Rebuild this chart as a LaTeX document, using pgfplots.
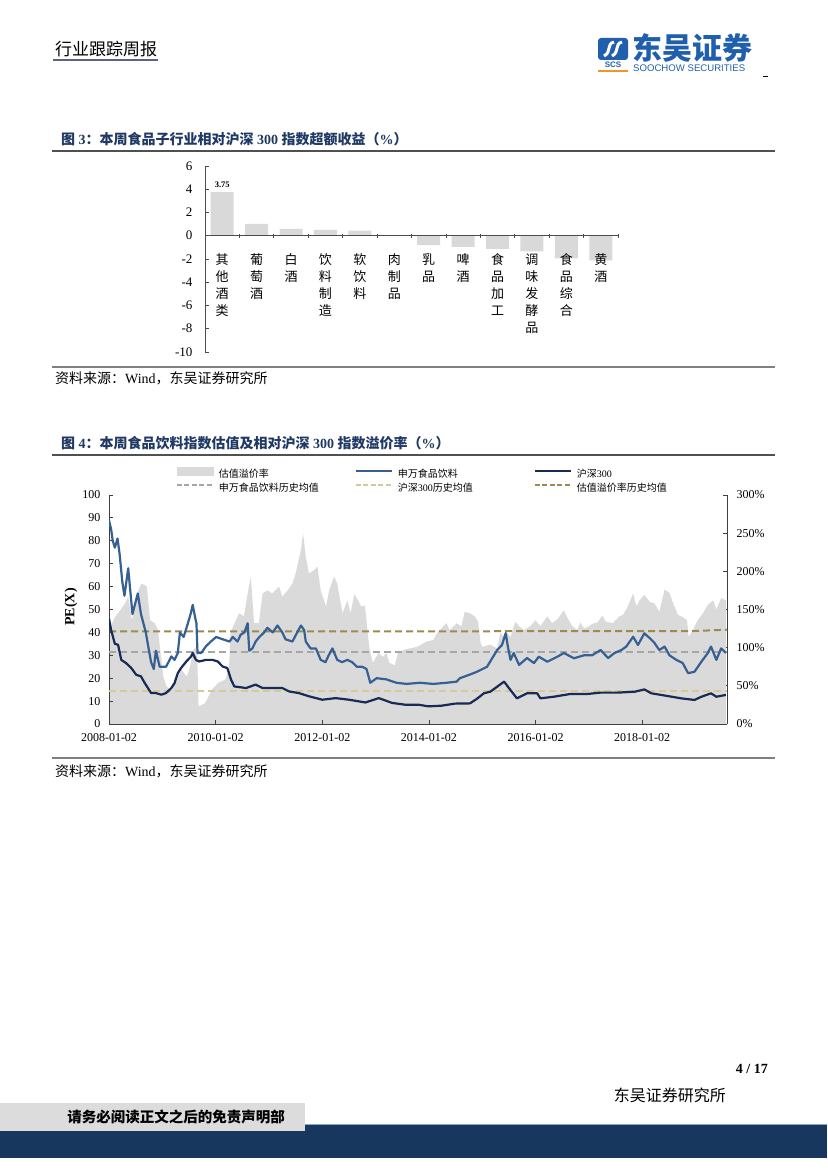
\documentclass[border=0pt]{standalone}
\usepackage{fontspec}
\setmainfont{Liberation Serif}
\newfontfamily\cjk{Noto Sans CJK SC}
\newfontfamily\lsans{Liberation Sans}
\usepackage{pgfplots}
\usepackage{pgfplotstable}
\pgfplotsset{compat=1.18}

\definecolor{titlenavy}{RGB}{31,56,100}
\definecolor{rulegray}{RGB}{80,80,80}
\definecolor{srcgray}{RGB}{128,128,128}
\definecolor{bargray}{RGB}{217,217,217}
\definecolor{areagray}{RGB}{218,218,218}
\definecolor{swblue}{RGB}{54,96,146}
\definecolor{hsnavy}{RGB}{23,43,85}
\definecolor{meangray}{RGB}{166,166,166}
\definecolor{meankhaki}{RGB}{214,200,155}
\definecolor{meanolive}{RGB}{154,140,80}
\definecolor{footnavy}{RGB}{23,55,94}
\definecolor{footgray}{RGB}{220,220,220}
\definecolor{footline}{RGB}{140,165,200}
\definecolor{logoblue}{RGB}{31,95,173}
\definecolor{logoorange}{RGB}{240,150,40}
\definecolor{headline}{RGB}{90,100,130}

% 申万食品饮料 PE
\pgfplotstableread{
year pe
2008.00 89
2008.04 85
2008.07 80
2008.11 77
2008.16 81
2008.20 74
2008.25 62
2008.29 56
2008.36 68
2008.44 48
2008.54 57
2008.60 48
2008.69 40
2008.75 32
2008.79 27
2008.84 24
2008.88 32
2008.95 25
2009.07 25
2009.17 29.5
2009.23 28
2009.29 31
2009.33 40
2009.40 38
2009.48 44
2009.53 48
2009.57 52
2009.62 46
2009.64 44
2009.66 31
2009.73 31
2009.82 34
2009.91 36
2010.01 38
2010.13 37
2010.26 36
2010.32 38
2010.41 36
2010.47 39
2010.54 40
2010.60 44
2010.63 32
2010.69 33
2010.75 36
2010.82 38
2010.91 40
2010.97 42
2011.07 40
2011.16 43
2011.25 40
2011.31 37
2011.44 36
2011.53 40
2011.60 43
2011.66 41
2011.69 36
2011.78 33
2011.88 33
2011.97 28
2012.06 27
2012.12 30
2012.19 33
2012.28 28
2012.37 27
2012.47 28
2012.56 27
2012.65 25
2012.75 25
2012.83 24
2012.90 18
2013.02 20
2013.20 19.5
2013.39 18
2013.58 17.5
2013.83 18
2014.08 17.5
2014.33 18
2014.52 18.5
2014.58 20
2014.77 21.6
2014.90 22.8
2015.09 25
2015.28 32.3
2015.37 34.5
2015.44 39.7
2015.48 33.8
2015.53 28
2015.59 31
2015.69 25.8
2015.84 28.8
2015.97 26.6
2016.06 29.4
2016.22 27.2
2016.41 29.4
2016.53 31
2016.72 28.7
2016.91 30
2017.06 30
2017.22 32.3
2017.36 28.8
2017.48 31
2017.61 32.3
2017.70 33.8
2017.83 38.1
2017.92 34.5
2018.04 39.6
2018.14 37.5
2018.23 35.4
2018.32 32.3
2018.42 33.8
2018.51 30
2018.64 28
2018.76 26.6
2018.86 22.2
2018.98 22.8
2019.11 27.2
2019.23 31
2019.29 33.8
2019.39 28
2019.48 33
2019.57 31
}\swdata

% 沪深300 PE
\pgfplotstableread{
year pe
2008.00 46
2008.04 41
2008.11 35
2008.17 34.6
2008.23 28
2008.32 26.6
2008.42 24.4
2008.51 21.5
2008.60 20.8
2008.67 17.9
2008.73 15.7
2008.79 13.5
2008.88 13.5
2008.98 12.8
2009.07 13.5
2009.17 15.7
2009.23 17.9
2009.29 22.2
2009.35 24.4
2009.45 27.3
2009.54 29.5
2009.57 31
2009.63 28
2009.69 27.3
2009.82 28
2009.94 28
2010.04 27.3
2010.13 25.1
2010.22 24.4
2010.29 19.3
2010.35 16.4
2010.57 15.7
2010.75 17.2
2010.88 15.7
2011.07 15.7
2011.25 15.7
2011.38 14.2
2011.56 13.5
2011.75 12.1
2012.00 10.6
2012.25 11.3
2012.50 10.6
2012.81 9.4
2013.06 11.3
2013.31 9.2
2013.56 8.4
2013.81 8.4
2013.99 7.7
2014.24 8
2014.49 8.9
2014.77 9
2014.90 11
2015.03 13.4
2015.15 14.1
2015.28 16.3
2015.41 18.5
2015.53 14.8
2015.65 11.2
2015.84 13.4
2016.03 13.4
2016.09 11.2
2016.34 11.9
2016.65 13.1
2016.97 13.1
2017.22 13.7
2017.54 13.7
2017.86 14.1
2018.04 15.1
2018.17 13.4
2018.48 12.2
2018.73 11.2
2018.98 10.5
2019.11 11.9
2019.29 13.4
2019.39 11.9
2019.57 12.7
}\hsdata

% 估值溢价率 (%)
\pgfplotstableread{
year prem
2008.00 123
2008.11 140
2008.17 145
2008.30 158
2008.36 167
2008.43 136
2008.55 175
2008.61 184
2008.71 180
2008.77 136
2008.86 132
2008.92 123
2008.96 97
2009.02 62
2009.08 49
2009.18 44
2009.27 58
2009.36 71
2009.46 62
2009.52 75
2009.58 97
2009.65 101
2009.68 23
2009.80 27
2009.93 45
2010.05 54
2010.18 58
2010.25 72
2010.28 120
2010.38 136
2010.44 145
2010.53 141
2010.59 167
2010.66 193
2010.72 132
2010.81 132
2010.88 171
2010.97 175
2011.06 171
2011.19 180
2011.25 167
2011.35 175
2011.44 184
2011.50 197
2011.60 228
2011.64 250
2011.69 219
2011.75 197
2011.85 202
2011.91 206
2011.97 175
2012.07 154
2012.13 175
2012.22 193
2012.28 184
2012.38 145
2012.47 162
2012.53 145
2012.60 170
2012.67 162
2012.73 154
2012.80 155
2012.86 114
2012.89 97
2012.95 80
2013.05 93
2013.14 88
2013.20 93
2013.26 80
2013.36 77
2013.42 93
2013.52 97
2013.64 99
2013.77 101
2013.86 104
2013.95 108
2014.08 110
2014.17 121
2014.27 128
2014.33 132
2014.39 123
2014.52 132
2014.61 128
2014.67 147
2014.77 145
2014.86 141
2014.92 134
2014.97 106
2015.00 101
2015.15 104
2015.28 99
2015.34 119
2015.41 114
2015.47 119
2015.53 114
2015.62 134
2015.69 128
2015.78 123
2015.90 128
2016.00 136
2016.09 128
2016.22 141
2016.31 132
2016.41 137
2016.53 149
2016.59 140
2016.69 128
2016.78 123
2016.84 133
2016.91 125
2017.00 128
2017.06 131
2017.16 133
2017.25 142
2017.32 134
2017.45 132
2017.57 141
2017.64 143
2017.73 154
2017.83 171
2017.89 154
2017.95 162
2018.04 169
2018.14 160
2018.23 158
2018.32 147
2018.42 176
2018.51 172
2018.58 158
2018.67 143
2018.76 140
2018.84 136
2018.87 114
2018.95 123
2019.04 136
2019.14 145
2019.23 156
2019.33 162
2019.39 150
2019.48 165
2019.57 162
}\premdata

\begin{document}
\begin{tikzpicture}
\path[use as bounding box] (0pt,0pt) rectangle (827pt,1169pt);

\begin{scope}[x=1pt, y=-1pt, shift={(0pt,1169pt)}]
% header
\node[anchor=base west, inner sep=0pt] at (55,56) {\cjk\fontsize{17}{17}\selectfont 行业跟踪周报};
\draw[headline, line width=2pt] (53,60) -- (158,60);
\fill[logoblue, rounded corners=3pt] (598,38) rectangle (628,60);
\draw[white, line width=3pt] (604,56) .. controls (612,52) and (606,44) .. (614,42);
\draw[white, line width=3pt] (612,56) .. controls (620,52) and (614,44) .. (622,42);
\node[anchor=base, inner sep=0pt, text=logoblue] at (613,68) {\lsans\bfseries\fontsize{8}{8}\selectfont SCS};
\draw[logoorange, line width=1.5pt] (598,71) -- (628,71);
\node[anchor=base west, inner sep=0pt, text=logoblue] at (632,60) {\cjk\bfseries\fontsize{30}{30}\selectfont 东吴证券};
\node[anchor=base west, inner sep=0pt, text=logoblue] at (633,72) {\lsans\fontsize{9.6}{10}\selectfont SOOCHOW SECURITIES};
\draw[black, line width=1pt] (763,77) -- (768,77);

% chart 3 frame
\node[anchor=base west, inner sep=0pt, text=titlenavy] at (61,145)
  {\bfseries\fontsize{14}{14}\selectfont {\cjk 图} 3{\cjk ：本周食品子行业相对沪深} 300 {\cjk 指数超额收益（}\%{\cjk ）}};
\draw[rulegray, line width=2pt] (52,151) -- (775,151);
\draw[srcgray, line width=2pt] (52,367) -- (775,367);
\node[anchor=base west, inner sep=0pt] at (55,384)
  {\fontsize{14}{14}\selectfont {\cjk 资料来源：}Wind{\cjk ，东吴证券研究所}};

% chart 4 frame
\node[anchor=base west, inner sep=0pt, text=titlenavy] at (61,449)
  {\bfseries\fontsize{14}{14}\selectfont {\cjk 图} 4{\cjk ：本周食品饮料指数估值及相对沪深} 300 {\cjk 指数溢价率（}\%{\cjk ）}};
\draw[rulegray, line width=2pt] (52,455) -- (775,455);
\draw[srcgray, line width=2pt] (52,758) -- (775,758);
\node[anchor=base west, inner sep=0pt] at (55,777)
  {\fontsize{14}{14}\selectfont {\cjk 资料来源：}Wind{\cjk ，东吴证券研究所}};
\node[rotate=90, inner sep=0pt] at (71,607) {\bfseries\fontsize{14}{14}\selectfont PE(X)};

% footer
\node[anchor=base east, inner sep=0pt] at (768,1074) {\bfseries\fontsize{14}{14}\selectfont 4 / 17};
\node[anchor=base east, inner sep=0pt] at (726,1102) {\cjk\fontsize{16}{16}\selectfont 东吴证券研究所};
\fill[footnavy] (0,1125) rectangle (827,1158);
\draw[footline, line width=1pt] (305,1125) -- (827,1125);
\fill[footgray] (0,1103) rectangle (305,1131);
\node[inner sep=0pt] at (176,1117) {\cjk\bfseries\fontsize{14.5}{14.5}\selectfont 请务必阅读正文之后的免责声明部};
\end{scope}

% ---------- chart 3 ----------
\begin{axis}[
  at={(205pt,817pt)}, anchor=south west,
  scale only axis, width=413pt, height=186pt,
  xmin=-0.5, xmax=11.5, ymin=-10, ymax=6,
  axis on top,
  axis x line=middle, axis y line=left,
  axis line style={-, draw=black!70, line width=1pt},
  hide obscured x ticks=false, hide obscured y ticks=false,
  xtick={-0.5,0.5,...,11.5},
  x tick label as interval,
  xticklabels={其\\他\\酒\\类, 葡\\萄\\酒, 白\\酒, 饮\\料\\制\\造, 软\\饮\\料, 肉\\制\\品, 乳\\品, 啤\\酒, 食\\品\\加\\工, 调\\味\\发\\酵\\品, 食\\品\\综\\合, 黄\\酒},
  xticklabel style={font=\cjk\fontsize{13}{17}\selectfont, align=center, anchor=north, inner sep=0pt, yshift=-14pt},
  ytick={-10,-8,...,6},
  yticklabel style={font=\fontsize{13}{13}\selectfont, xshift=-9pt},
  tick align=inside, xtick align=center, major tick length=4pt,
  tick style={draw=black!70, line width=0.8pt},
  xtick style={yshift=2pt},
  /pgf/number format/assume math mode=true,
  ybar, bar width=23pt, bar shift=0pt,
]
\addplot[fill=bargray, draw=none] coordinates {
  (0,3.75) (1,1.02) (2,0.58) (3,0.50) (4,0.45) (5,0.02)
  (6,-0.80) (7,-0.95) (8,-1.12) (9,-1.35) (10,-1.95) (11,-2.12)};
\node[anchor=base, inner sep=0pt, yshift=5pt, font=\bfseries\fontsize{8.5}{8.5}\selectfont] at (axis cs:0,3.75) {3.75};
\end{axis}

% ---------- chart 4, right axis (premium) ----------
\begin{axis}[
  at={(109pt,445pt)}, anchor=south west,
  scale only axis, width=618pt, height=229pt,
  xmin=2008, xmax=2019.59, ymin=0, ymax=300,
  axis x line=none, axis y line*=right,
  axis line style={-, draw=black!75, line width=0.8pt},
  ytick={0,50,...,300},
  yticklabel={\pgfmathprintnumber{\tick}\%},
  yticklabel style={font=\fontsize{12}{12}\selectfont, xshift=6pt},
  tick align=inside, major tick length=4pt,
  tick style={draw=black!75, line width=0.8pt},
  /pgf/number format/assume math mode=true,
]
\addplot[fill=areagray, draw=none] table[x=year, y=prem] {\premdata} \closedcycle;
\addplot[meanolive, line width=2pt, dash pattern=on 7pt off 4pt] coordinates {(2008,121.3) (2018.9,121.6) (2019.59,123.5)};
\end{axis}

% ---------- chart 4, left axis (PE) ----------
\begin{axis}[
  at={(109pt,445pt)}, anchor=south west,
  scale only axis, width=618pt, height=229pt,
  xmin=2008, xmax=2019.59, ymin=0, ymax=100,
  axis x line*=bottom, axis y line*=left,
  axis line style={-, draw=black!75, line width=0.8pt},
  xtick={2008,2010,2012,2014,2016,2018},
  xticklabels={2008-01-02,2010-01-02,2012-01-02,2014-01-02,2016-01-02,2018-01-02},
  xticklabel style={font=\fontsize{12}{12}\selectfont, yshift=-6pt},
  ytick={0,10,...,100},
  yticklabel style={font=\fontsize{12}{12}\selectfont, xshift=-5pt},
  tick align=inside, major tick length=4pt,
  tick style={draw=black!75, line width=0.8pt},
  /pgf/number format/assume math mode=true,
  legend columns=3,
  legend cell align=left,
  legend image code/.code={\draw[#1] (0pt,3.5pt) -- (36pt,3.5pt);},
  legend style={at={(0.1084,1.124)}, anchor=north west, draw=none, fill=none,
    inner sep=0pt, outer sep=0pt, row sep=4pt,
    /tikz/every odd column/.append style={column sep=5pt},
    font=\fontsize{10}{10}\selectfont, nodes={inner sep=0pt}},
]
\addlegendimage{legend image code/.code={\fill[areagray] (0pt,-0.5pt) rectangle (36pt,7.5pt);}}
\addlegendentry{\makebox[136pt][l]{\cjk 估值溢价率}}
\addlegendimage{swblue, line width=2pt}
\addlegendentry{\makebox[136pt][l]{\cjk 申万食品饮料}}
\addlegendimage{hsnavy, line width=2pt}
\addlegendentry{\makebox[136pt][l]{{\cjk 沪深}300}}
\addlegendimage{meangray, line width=2pt, dash pattern=on 5pt off 2.5pt}
\addlegendentry{\makebox[136pt][l]{\cjk 申万食品饮料历史均值}}
\addlegendimage{meankhaki, line width=2pt, dash pattern=on 5pt off 2.5pt}
\addlegendentry{\makebox[136pt][l]{{\cjk 沪深}300{\cjk 历史均值}}}
\addlegendimage{meanolive, line width=2pt, dash pattern=on 5pt off 2.5pt}
\addlegendentry{\makebox[136pt][l]{\cjk 估值溢价率历史均值}}

\addplot[forget plot, meangray, line width=2pt, dash pattern=on 7pt off 4pt] coordinates {(2008,31.6) (2019.59,31.6)};
\addplot[forget plot, meankhaki, line width=2pt, dash pattern=on 7pt off 4pt] coordinates {(2008,14.6) (2019.59,14.6)};
\addplot[forget plot, swblue, line width=2.2pt, line join=round] table[x=year, y=pe] {\swdata};
\addplot[forget plot, hsnavy, line width=2.2pt, line join=round] table[x=year, y=pe] {\hsdata};
\end{axis}
\end{tikzpicture}
\end{document}
